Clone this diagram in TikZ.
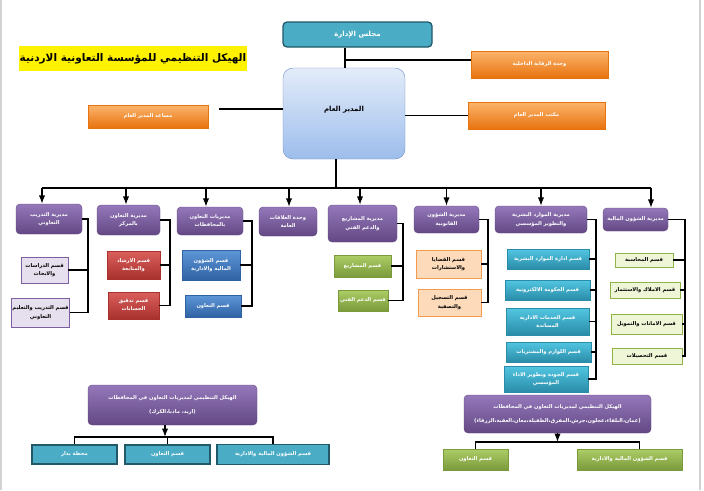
\documentclass[tikz,border=0pt]{standalone}
\usepackage{fontspec}
\newfontfamily\arabicfont[Script=Arabic]{DejaVu Sans}
\TeXXeTstate=1
\usetikzlibrary{positioning, arrows.meta}
\newcommand{\arx}[1]{\beginR#1\endR}

\definecolor{tealc}{HTML}{4BACC6}
\definecolor{tealdk}{HTML}{215968}
\definecolor{orgtop}{HTML}{FBB46C}
\definecolor{orgbot}{HTML}{E8730F}
\definecolor{gmtop}{HTML}{E3ECF9}
\definecolor{gmbot}{HTML}{9DBDEC}
\definecolor{gmline}{HTML}{6C8EBF}
\definecolor{purtop}{HTML}{9478BA}
\definecolor{purbot}{HTML}{634884}
\definecolor{lavfill}{HTML}{E6E0EE}
\definecolor{purline}{HTML}{7B5FA0}
\definecolor{redtop}{HTML}{DA605C}
\definecolor{redbot}{HTML}{A8302D}
\definecolor{bltop}{HTML}{5E97D8}
\definecolor{blbot}{HTML}{2F62A3}
\definecolor{grtop}{HTML}{ADCD66}
\definecolor{grbot}{HTML}{7A9A3C}
\definecolor{lorfill}{HTML}{FCDABA}
\definecolor{lorline}{HTML}{F39A4C}
\definecolor{tltop}{HTML}{52C6E2}
\definecolor{tlbot}{HTML}{2A8CA8}
\definecolor{lgfill}{HTML}{EFF6D8}
\definecolor{lgline}{HTML}{8FB347}

\begin{document}
\begin{tikzpicture}[x=1pt, y=-1pt,
    base/.style={rectangle, align=center, inner sep=1pt, font=\arabicfont\bfseries\fontsize{5.2}{8.5}\selectfont},
    board/.style={base, draw=tealdk, line width=1.3pt, fill=tealc, rounded corners=4pt, text=white, font=\arabicfont\bfseries\fontsize{7}{9}\selectfont},
    ttl/.style={base, fill=yellow, font=\arabicfont\bfseries\fontsize{10.5}{12}\selectfont},
    org/.style={base, draw=orgbot, top color=orgtop, bottom color=orgbot, text=white},
    gmbox/.style={base, draw=gmline, top color=gmtop, bottom color=gmbot, rounded corners=10pt, font=\arabicfont\bfseries\fontsize{7}{9}\selectfont},
    dir/.style={base, draw=purbot, top color=purtop, bottom color=purbot, rounded corners=4pt, text=white},
    lav/.style={base, draw=purline, fill=lavfill},
    rd/.style={base, draw=redbot, top color=redtop, bottom color=redbot, text=white},
    bl/.style={base, draw=blbot, top color=bltop, bottom color=blbot, text=white},
    gr/.style={base, draw=grbot, top color=grtop, bottom color=grbot, text=white},
    lor/.style={base, draw=lorline, fill=lorfill},
    tl/.style={base, draw=tlbot, top color=tltop, bottom color=tlbot, text=white},
    lg/.style={base, draw=lgline, fill=lgfill},
    st/.style={base, draw=tealdk, line width=1.3pt, fill=tealc, text=white},
    link/.style={line width=1.2pt},
    >=LaTeX
    ]

\fill[white] (0,0) rectangle (704,490);
\useasboundingbox (0,0) rectangle (704,490);
\draw[gray!35, line width=1.5pt] (1,0) -- (1,490);
\draw[gray!35, line width=2pt] (700,0) -- (700,490);

% top part
\node[board, minimum width=149, minimum height=25] (board) at (357.5,34.5) {\arx{مجلس الإدارة}};
\node[ttl, minimum width=216, minimum height=25] (title) at (133,58.5) {\arx{الهيكل التنظيمي للمؤسسة التعاونية الاردنية}};
\node[org, minimum width=137, minimum height=27] (audit) at (539.5,64.5) {\arx{وحدة الرقابة الداخلية}};
\node[gmbox, minimum width=122, minimum height=91, text depth=10pt] (gm) at (344,113.5) {\arx{المدير العام}};
\node[org, minimum width=120, minimum height=23] (asst) at (148,116.5) {\arx{مساعد المدير العام}};
\node[org, minimum width=137, minimum height=27] (office) at (536.5,115.5) {\arx{مكتب المدير العام}};

% directorates
\node[dir, minimum width=66, minimum height=30] (d1) at (49,219) {\arx{مديرية التدريب}\\\arx{التعاوني}};
\node[dir, minimum width=63, minimum height=30] (d2) at (128.5,220) {\arx{مديرية التعاون}\\\arx{بالمركز}};
\node[dir, minimum width=66, minimum height=28] (d3) at (210,221) {\arx{مديريات التعاون}\\\arx{بالمحافظات}};
\node[dir, minimum width=58, minimum height=29] (d4) at (288,221.5) {\arx{وحدة العلاقات}\\\arx{العامة}};
\node[dir, minimum width=69, minimum height=37] (d5) at (362.5,223.5) {\arx{مديرية المشاريع}\\\arx{والدعم الفني}};
\node[dir, minimum width=65, minimum height=27] (d6) at (446.5,219.5) {\arx{مديرية الشؤون}\\\arx{القانونية}};
\node[dir, minimum width=92, minimum height=27] (d7) at (541,219.5) {\arx{مديرية الموارد البشرية}\\\arx{والتطوير المؤسسي}};
\node[dir, minimum width=65, minimum height=23] (d8) at (635.5,219.5) {\arx{مديرية الشؤون المالية}};

% sections
\node[lav, minimum width=47, minimum height=26] (s11) at (44.5,270) {\arx{قسم الدراسات}\\\arx{والابحاث}};
\node[lav, minimum width=55, minimum height=29] (s12) at (40.5,312.5) {\arx{قسم التدريب والتعليم}\\\arx{التعاوني}};
\node[rd, minimum width=53, minimum height=28] (s21) at (133.5,265) {\arx{قسم الارشاد}\\\arx{والمتابعة}};
\node[rd, minimum width=51, minimum height=27] (s22) at (133.5,305.5) {\arx{قسم تدقيق}\\\arx{الحسابات}};
\node[bl, minimum width=58, minimum height=30] (s31) at (211,265) {\arx{قسم الشؤون}\\\arx{المالية والادارية}};
\node[bl, minimum width=56, minimum height=22] (s32) at (213,306) {\arx{قسم التعاون}};
\node[gr, minimum width=57, minimum height=22] (s51) at (362.5,266) {\arx{قسم المشاريع}};
\node[gr, minimum width=50, minimum height=21] (s52) at (363,300.5) {\arx{قسم الدعم الفني}};
\node[lor, minimum width=65, minimum height=28] (s61) at (448.5,264) {\arx{قسم القضايا}\\\arx{والاستشارات}};
\node[lor, minimum width=63, minimum height=27] (s62) at (449.5,302.5) {\arx{قسم التسجيل}\\\arx{والتصفية}};
\node[tl, minimum width=82, minimum height=20] (s71) at (548,259) {\arx{قسم ادارة الموارد البشرية}};
\node[tl, minimum width=85, minimum height=20] (s72) at (547.5,290) {\arx{قسم الحكومة الالكترونية}};
\node[tl, minimum width=83, minimum height=27] (s73) at (547.5,321.5) {\arx{قسم الخدمات الادارية}\\\arx{المساندة}};
\node[tl, minimum width=85, minimum height=20] (s74) at (548.5,352) {\arx{قسم اللوازم والمشتريات}};
\node[tl, minimum width=84, minimum height=26] (s75) at (546,379) {\arx{قسم الجودة وتطوير الاداء}\\\arx{المؤسسي}};
\node[lg, minimum width=58, minimum height=14] (s81) at (644,260) {\arx{قسم المحاسبة}};
\node[lg, minimum width=70, minimum height=16] (s82) at (645,290) {\arx{قسم الاملاك والاستثمار}};
\node[lg, minimum width=71, minimum height=20] (s83) at (646.5,324) {\arx{قسم الامانات والتمويل}};
\node[lg, minimum width=70, minimum height=16] (s84) at (647,356) {\arx{قسم التحصيلات}};

% governorates (bottom)
\node[dir, minimum width=187, minimum height=38] (pr) at (557.5,414) {\arx{الهيكل التنظيمي لمديريات التعاون في المحافظات}\\[6pt]\arx{(عمان،البلقاء،عجلون،جرش،المفرق،الطفيلة،معان،العقبة،الزرقاء)}};
\node[gr, minimum width=65, minimum height=21] (r1) at (475.5,459.5) {\arx{قسم التعاون}};
\node[gr, minimum width=105, minimum height=21] (r2) at (629.5,459.5) {\arx{قسم الشؤون المالية والادارية}};
\node[dir, minimum width=169, minimum height=40] (pl) at (172.5,405) {\arx{الهيكل التنظيمي لمديريات التعاون في المحافظات}\\[6pt]\arx{(اربد، مادبا،الكرك)}};
\node[st, minimum width=85, minimum height=19] (l1) at (74.5,454.5) {\arx{محطة بذار}};
\node[st, minimum width=85, minimum height=19] (l2) at (167.5,454.5) {\arx{قسم التعاون}};
\node[st, minimum width=112, minimum height=20] (l3) at (273,454.5) {\arx{قسم الشؤون المالية والادارية}};

% top links
\coordinate (jb) at (345,60);
\draw[link] (board.south -| jb) -- (gm.north -| jb);
\draw[link] (jb) -- (jb -| audit.west);
\coordinate (ja) at (219,109);
\draw[link] (ja) -- (ja -| gm.west);
\draw[link] (gm.east |- office.west) -- (office.west);

% main bus
\coordinate (busl) at (42,188);
\coordinate (busr) at (651,188);
\coordinate (gmd) at (336,188);
\draw[link] (gm.south -| gmd) -- (gmd);
\draw[link] (busl) -- (busr);
\foreach \d/\s in {d1/-7, d2/-2.5, d3/-4, d4/1, d5/-2.5, d6/0, d7/0, d8/15.5}{
    \coordinate (tip) at ([xshift=\s]\d.north);
    \draw[link,->] (tip |- busl) -- (tip);
}

% brackets
\coordinate (b1) at (88,0);
\coordinate (b2) at (170,0);
\coordinate (b3) at (252,0);
\coordinate (b5) at (403,0);
\coordinate (b6) at (488,0);
\coordinate (b7) at (596,0);
\coordinate (b8) at (685,0);
\foreach \d/\b/\i/\j in {d1/b1/s11/s12, d2/b2/s21/s22, d3/b3/s31/s32, d5/b5/s51/s52, d6/b6/s61/s62}{
    \draw[link] (\d.east) -- (\d.east -| \b) |- (\j.east);
    \draw[link] (\i.east) -- (\i.east -| \b);
}
\draw[link] (d7.east) -- (d7.east -| b7) |- (s75.east);
\foreach \i in {s71, s72, s73, s74}
    \draw[link] (\i.east) -- (\i.east -| b7);
\draw[link] (d8.east) -- (d8.east -| b8) |- (s84.east);
\foreach \i in {s81, s82, s83}
    \draw[link] (\i.east) -- (\i.east -| b8);

% bottom buses
\coordinate (rbus) at (0,442);
\coordinate (r2d) at ([xshift=10]r2.north);
\draw[link,->] (pr.south) -- (pr.south |- rbus);
\draw[link] (r1.north) -- (r1.north |- rbus) -- (r2d |- rbus) -- (r2d);

\coordinate (lbus) at (0,437);
\coordinate (pld) at ([xshift=-7.5]pl.south);
\draw[link,->] (pld) -- (pld |- lbus);
\draw[link] (l1.north) -- (l1.north |- lbus) -- (l3.north |- lbus) -- (l3.north);
\draw[link] (l2.north |- lbus) -- (l2.north);

\end{tikzpicture}
\end{document}
